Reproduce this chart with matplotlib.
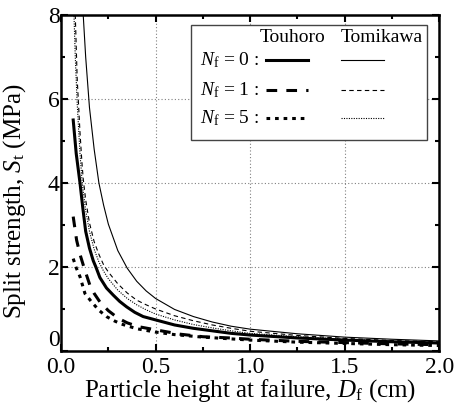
import numpy as np
import matplotlib
import matplotlib.pyplot as plt
from matplotlib.lines import Line2D
from matplotlib.patches import Rectangle
from matplotlib.ticker import MultipleLocator, FormatStrFormatter

matplotlib.use('Agg')

plt.rcParams['font.family'] = 'Liberation Serif'
plt.rcParams['mathtext.fontset'] = 'custom'
plt.rcParams['mathtext.rm'] = 'Liberation Serif'
plt.rcParams['mathtext.it'] = 'Liberation Serif:italic'

# particle height at failure D_f (cm) vs split strength S_t (MPa)
touhoro_n0_d = [0.064, 0.08, 0.1, 0.115, 0.13, 0.15, 0.17, 0.184, 0.205, 0.24, 0.276, 0.31, 0.347,
                0.39, 0.434, 0.5, 0.6, 0.7, 0.8, 0.9, 1.0, 1.25, 1.5, 1.75, 2.0]
touhoro_n0_s = [5.5, 4.7, 4.0, 3.4, 2.85, 2.45, 2.15, 2.0, 1.75, 1.5, 1.33, 1.18, 1.05,
                0.92, 0.82, 0.74, 0.62, 0.54, 0.48, 0.42, 0.38, 0.31, 0.26, 0.22, 0.19]

touhoro_n1_d = [0.064, 0.082, 0.1, 0.117, 0.135, 0.152, 0.175, 0.205, 0.25, 0.302, 0.35, 0.408,
                0.505, 0.63, 0.75, 0.895, 1.0, 1.25, 1.5, 1.75, 2.0]
touhoro_n1_s = [3.2, 2.64, 2.3, 2.05, 1.8, 1.57, 1.37, 1.17, 0.96, 0.78, 0.67, 0.58,
                0.5, 0.4, 0.34, 0.31, 0.28, 0.23, 0.2, 0.17, 0.15]

touhoro_n5_d = [0.064, 0.08, 0.1, 0.126, 0.161, 0.2, 0.24, 0.28, 0.32, 0.4, 0.5, 0.6, 0.75,
                1.0, 1.25, 1.5, 1.75, 2.0]
touhoro_n5_s = [2.2, 1.98, 1.77, 1.37, 1.17, 0.97, 0.82, 0.72, 0.64, 0.53, 0.45, 0.39, 0.33,
                0.26, 0.21, 0.18, 0.15, 0.13]

tomikawa_d = [0.064, 0.075, 0.085, 0.1, 0.11, 0.117, 0.13, 0.15, 0.175, 0.2, 0.225, 0.25, 0.3,
              0.35, 0.4, 0.45, 0.5, 0.6, 0.7, 0.8, 0.9, 1.0, 1.25, 1.5, 1.75, 2.0]
tomikawa_n0_s = [16.2, 14.0, 11.9, 9.7, 8.65, 8.0, 7.0, 5.8, 4.8, 4.0, 3.47, 3.02, 2.39,
                 1.97, 1.66, 1.43, 1.25, 0.99, 0.82, 0.69, 0.59, 0.52, 0.41, 0.33, 0.28, 0.24]
tomikawa_n1_s = [9.5, 8.0, 6.5, 5.2, 4.5, 4.1, 3.6, 3.05, 2.6, 2.3, 2.05, 1.88, 1.6,
                 1.38, 1.21, 1.1, 1.0, 0.84, 0.72, 0.62, 0.54, 0.47, 0.37, 0.3, 0.25, 0.22]
tomikawa_n5_s = [8.6, 7.0, 5.9, 4.7, 4.1, 3.8, 3.35, 2.85, 2.42, 2.12, 1.9, 1.72, 1.45,
                 1.25, 1.1, 0.98, 0.88, 0.74, 0.63, 0.55, 0.48, 0.42, 0.34, 0.28, 0.23, 0.2]

y_ticks = [0, 2, 4, 6, 8]

styles = {
    't0': dict(color='black', lw=2.2, ls='-'),
    't1': dict(color='black', lw=2.2, ls=(0, (3.5, 3.0))),
    't5': dict(color='black', lw=2.2, ls=(0, (1.2, 1.6))),
    'k0': dict(color='black', lw=0.8, ls='-'),
    'k1': dict(color='black', lw=0.8, ls=(0, (4, 3))),
    'k5': dict(color='black', lw=0.8, ls=(0, (1, 1.2))),
}

fig = plt.figure(figsize=(4.56, 4.11), dpi=100)
ax = fig.add_axes([0.134, 0.146, 0.829, 0.8175])

ax.plot(tomikawa_d, tomikawa_n0_s, **styles['k0'])
ax.plot(tomikawa_d, tomikawa_n1_s, **styles['k1'])
ax.plot(tomikawa_d, tomikawa_n5_s, **styles['k5'])
ax.plot(touhoro_n0_d, touhoro_n0_s, **styles['t0'])
ax.plot(touhoro_n1_d, touhoro_n1_s, **styles['t1'])
ax.plot(touhoro_n5_d, touhoro_n5_s, **styles['t5'])

ax.set_xlim(0, 2.0)
ax.set_ylim(0, 8)
ax.xaxis.set_major_locator(MultipleLocator(0.5))
ax.xaxis.set_minor_locator(MultipleLocator(0.25))
ax.set_yticks(y_ticks)
ax.yaxis.set_minor_locator(MultipleLocator(1))
ax.xaxis.set_major_formatter(FormatStrFormatter('%.1f'))
ax.grid(True, which='major', color='gray', ls=(0, (1, 2)), lw=0.8)
ax.tick_params(which='both', direction='in', top=True, right=True, labelsize=17, width=1.5)
ax.tick_params(which='major', length=5, pad=1)
ax.tick_params(which='minor', length=3)
ax.tick_params(axis='x', which='major', pad=4)
for sp in ax.spines.values():
    sp.set_linewidth(1.8)

ax.set_xlabel(r'Particle height at failure, $D_\mathrm{f}$ (cm)', fontsize=18, labelpad=0)
ax.set_ylabel(r'Split strength, $S_\mathrm{t}$ (MPa)', fontsize=18)
ax.yaxis.set_label_coords(-0.088, 0.446)

# legend drawn by hand: header row plus one row per N_f
ax.add_patch(Rectangle((0.344, 0.628), 0.624, 0.342, transform=ax.transAxes,
                       facecolor='white', edgecolor='#444444', lw=1.0, zorder=5))
ax.text(0.613, 0.932, 'Touhoro', transform=ax.transAxes, ha='center', va='center', fontsize=14, zorder=6)
ax.text(0.848, 0.932, 'Tomikawa', transform=ax.transAxes, ha='center', va='center', fontsize=14, zorder=6)
rows = [('0', 0.866, 't0', 'k0'), ('1', 0.777, 't1', 'k1'), ('5', 0.693, 't5', 'k5')]
for n, y, ts, ks in rows:
    ax.text(0.524, y, r'$N_\mathrm{f}$ = ' + n + ' :', transform=ax.transAxes,
            ha='right', va='center', fontsize=14, zorder=6)
    ax.add_line(Line2D([0.542, 0.653], [y, y], transform=ax.transAxes, zorder=6, **styles[ts]))
    ax.add_line(Line2D([0.740, 0.853], [y, y], transform=ax.transAxes, zorder=6, **styles[ks]))

# lift the y "0" so it sits above the x "0.0"; draw first so the other
# ticks already exist and don't copy this alignment
fig.canvas.draw()
ax.yaxis.get_major_ticks()[0].label1.set_verticalalignment('bottom')

fig.savefig('out.png', dpi=100)
